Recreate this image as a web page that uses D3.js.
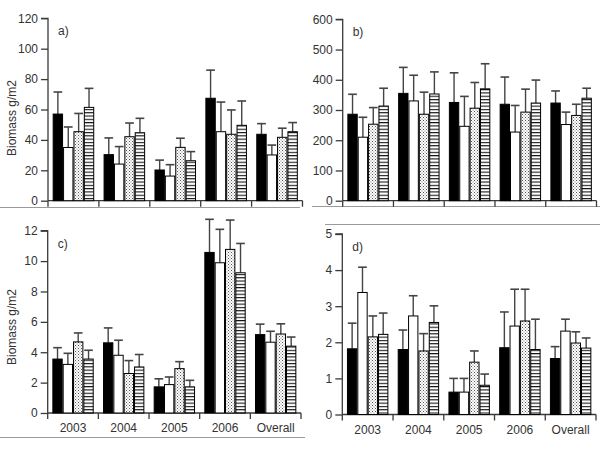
<!DOCTYPE html>
<html>
<head>
<meta charset="utf-8">
<script src="https://cdn.jsdelivr.net/npm/d3@7"></script>
<style>
  html, body { margin: 0; padding: 0; background: #fff; }
  svg { display: block; }
  text { font-family: Arial, "Liberation Sans", sans-serif; }
</style>
</head>
<body>
<svg id="chart" width="600" height="450"></svg>
<script>
// ---- data ----
const categories = ["2003", "2004", "2005", "2006", "Overall"];
const seriesKeys = ["solid", "open", "dotted", "striped"];

// panel a) means and standard errors (one row per category, one value per series)
const aMeans = [[57, 35, 45.4, 61.4], [30.3, 24.1, 42.1, 44.7], [20.2, 16.2, 35.1, 26.3], [67.4, 45.4, 43.7, 49.6], [43.7, 30.1, 41.7, 45.4]];
const aErr   = [[14.5, 13.5, 12, 12.5], [11, 11.5, 9, 9.5], [6.5, 7.5, 6, 6], [18.5, 19.5, 16, 16], [7, 6.5, 6, 6]];

// panel b)
const bMeans = [[286, 210, 253, 313], [355, 330, 286, 353], [325, 246, 306, 370], [319, 227, 293, 323], [323, 252, 282, 339]];
const bErr   = [[66, 66, 55, 59], [86, 85, 73, 73], [98, 99, 85, 83], [90, 88, 76, 76], [40, 41, 37, 33]];

// panel c)
const cMeans = [[3.55, 3.2, 4.68, 3.55], [4.62, 3.8, 2.6, 3.03], [1.72, 1.87, 2.92, 1.72], [10.57, 9.89, 10.77, 9.23], [5.16, 4.66, 5.2, 4.4]];
const cErr   = [[0.75, 0.73, 0.59, 0.58], [0.98, 0.99, 0.85, 0.82], [0.53, 0.5, 0.46, 0.43], [2.18, 2.2, 1.93, 1.93], [0.69, 0.72, 0.67, 0.6]];

// panel d)
const dMeans = [[1.82, 3.38, 2.15, 2.22], [1.8, 2.73, 1.76, 2.55], [0.62, 0.62, 1.45, 0.81], [1.85, 2.45, 2.59, 1.8], [1.55, 2.31, 1.98, 1.84]];
const dErr   = [[0.71, 0.7, 0.58, 0.59], [0.54, 0.56, 0.48, 0.46], [0.38, 0.38, 0.31, 0.31], [0.99, 1.02, 0.88, 0.84], [0.33, 0.33, 0.31, 0.28]];

const aTicks = [0, 20, 40, 60, 80, 100, 120];
const bTicks = [0, 100, 200, 300, 400, 500, 600];
const cTicks = [0, 2, 4, 6, 8, 10, 12];
const dTicks = [0, 1, 2, 3, 4, 5];

const panelLabels = ["a)", "b)", "c)", "d)"];
const yTitle = "Biomass g/m2";

// ---- layout ----
const panels = [
  { label: panelLabels[0], means: aMeans, err: aErr, ticks: aTicks, x0: 48, x1: 302.5, yTop: 18.3, yBot: 200.7, xLabels: false, yTitle: true, titleY: 118 },
  { label: panelLabels[1], means: bMeans, err: bErr, ticks: bTicks, x0: 342.7, x1: 596.5, yTop: 19.3, yBot: 200.7, xLabels: false, yTitle: false },
  { label: panelLabels[2], means: cMeans, err: cErr, ticks: cTicks, x0: 47.7, x1: 301, yTop: 230.7, yBot: 413, xLabels: true, yTitle: true, titleY: 327 },
  { label: panelLabels[3], means: dMeans, err: dErr, ticks: dTicks, x0: 342.3, x1: 596, yTop: 234, yBot: 414.5, xLabels: true, yTitle: false }
];

const svg = d3.select("#chart");
const axisColor = "#3a3a3a";
const textColor = "#333";

// patterns
const defs = svg.append("defs");
const dots = defs.append("pattern").attr("id", "dots").attr("patternUnits", "userSpaceOnUse")
  .attr("width", 3).attr("height", 3);
dots.append("rect").attr("width", 3).attr("height", 3).attr("fill", "#fff");
dots.append("rect").attr("x", 0).attr("y", 0).attr("width", 1).attr("height", 1).attr("fill", "#555");
dots.append("rect").attr("x", 1.5).attr("y", 1.5).attr("width", 1).attr("height", 1).attr("fill", "#777");

const stripes = defs.append("pattern").attr("id", "stripes").attr("patternUnits", "userSpaceOnUse")
  .attr("width", 4).attr("height", 3.3);
stripes.append("rect").attr("width", 4).attr("height", 3.3).attr("fill", "#fff");
stripes.append("rect").attr("x", 0).attr("y", 0).attr("width", 4).attr("height", 1.1).attr("fill", "#111");

const fills = { solid: "#000", open: "#fff", dotted: "url(#dots)", striped: "url(#stripes)" };

// separator lines (panel frames)
const seps = [
  [0, 300, 207.5], [312, 600, 206.5], [325, 600, 224.5], [0, 305, 437.5]
];
svg.selectAll("line.sep").data(seps).enter().append("line")
  .attr("x1", d => d[0]).attr("x2", d => d[1]).attr("y1", d => d[2]).attr("y2", d => d[2])
  .attr("stroke", "#9a9a9a").attr("stroke-width", 1);

panels.forEach(p => {
  const g = svg.append("g");
  const ymax = p.ticks[p.ticks.length - 1];
  const y = d3.scaleLinear().domain([0, ymax]).range([p.yBot, p.yTop]);
  const x = d3.scaleBand().domain(categories).range([p.x0, p.x1]).paddingInner(0).paddingOuter(0);
  const xi = d3.scaleBand().domain(seriesKeys).range([0, x.bandwidth()]).paddingInner(0).paddingOuter(0.45);

  // y axis
  const yAxis = d3.axisLeft(y).tickValues(p.ticks).tickSize(7).tickPadding(3).tickFormat(d3.format("d"));
  const ya = g.append("g").attr("transform", `translate(${p.x0},0)`).call(yAxis);
  ya.select(".domain").attr("stroke", axisColor).attr("stroke-width", 1.3).attr("d", `M-7,${y(ymax)}H0V${y(0)}`);
  ya.selectAll(".tick line").attr("stroke", axisColor).attr("stroke-width", 1.3);
  ya.selectAll(".tick text").attr("fill", textColor).style("font-size", "12px");

  // x axis: line along zero with ticks at group boundaries
  const bounds = categories.map(c => x(c)).concat([p.x1]);
  g.append("line").attr("x1", p.x0).attr("x2", p.x1).attr("y1", y(0)).attr("y2", y(0))
    .attr("stroke", axisColor).attr("stroke-width", 1.3);
  g.selectAll("line.xt").data(bounds).enter().append("line")
    .attr("x1", d => d).attr("x2", d => d).attr("y1", y(0)).attr("y2", y(0) + 6)
    .attr("stroke", axisColor).attr("stroke-width", 1.3);

  if (p.xLabels) {
    g.selectAll("text.xl").data(categories).enter().append("text")
      .attr("x", d => x(d) + x.bandwidth() / 2).attr("y", y(0) + 19)
      .attr("text-anchor", "middle").attr("fill", textColor).style("font-size", "12px")
      .text(d => d);
  }

  // bars + error bars
  categories.forEach((c, ci) => {
    seriesKeys.forEach((s, si) => {
      const m = p.means[ci][si], e = p.err[ci][si];
      const bx = x(c) + xi(s), bw = xi.bandwidth();
      const cx = bx + bw / 2;
      g.append("line").attr("x1", cx).attr("x2", cx).attr("y1", y(m)).attr("y2", y(m + e))
        .attr("stroke", "#444").attr("stroke-width", 1.4);
      g.append("line").attr("x1", cx - bw * 0.42).attr("x2", cx + bw * 0.42).attr("y1", y(m + e)).attr("y2", y(m + e))
        .attr("stroke", "#444").attr("stroke-width", 1.6);
      g.append("rect").attr("x", bx + 0.5).attr("y", y(m)).attr("width", bw - 1).attr("height", y(0) - y(m))
        .attr("fill", fills[s]).attr("stroke", "#000").attr("stroke-width", 1);
    });
  });

  // panel letter
  g.append("text").attr("x", p.x0 + 10).attr("y", p.yTop + 17).attr("fill", textColor)
    .style("font-size", "12px").text(p.label);

  if (p.yTitle) {
    g.append("text").attr("transform", `translate(16,${p.titleY}) rotate(-90)`)
      .attr("text-anchor", "middle").attr("fill", textColor).style("font-size", "12px").text(yTitle);
  }
});
</script>
</body>
</html>
